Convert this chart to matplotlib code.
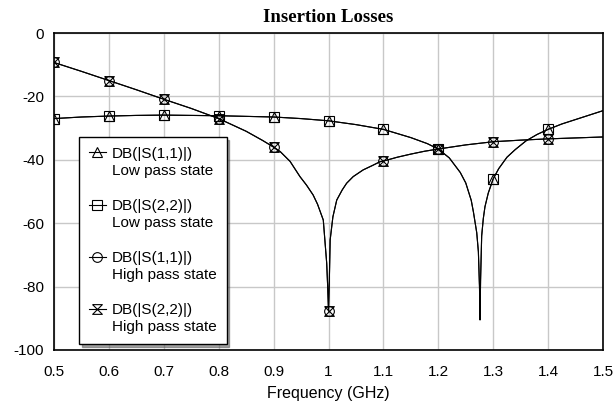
import matplotlib

matplotlib.use("Agg")
import matplotlib.pyplot as plt
import numpy as np
from matplotlib.legend_handler import HandlerLine2D

# ---- data (dB vs GHz) ----
# low pass state: |S(1,1)| and |S(2,2)| lie on top of each other
lp_freq = [0.50, 0.55, 0.60, 0.65, 0.70, 0.75, 0.80, 0.85, 0.90, 0.95,
           1.00, 1.05, 1.10, 1.15, 1.18, 1.20, 1.22, 1.24, 1.25, 1.26,
           1.264, 1.27, 1.273, 1.275, 1.276, 1.277, 1.279, 1.282, 1.285, 1.291,
           1.30, 1.31, 1.325, 1.34, 1.36, 1.38, 1.40, 1.425, 1.45, 1.475, 1.50]
lp_s11 = [-27.0, -26.5, -26.2, -26.0, -25.9, -26.0, -26.1, -26.3, -26.5, -27.0,
          -27.7, -28.9, -30.4, -33.0, -34.9, -36.6, -39.4, -44.0, -47.3, -52.8,
          -56.5, -63.0, -69.0, -80.0, -90.5, -78.0, -64.0, -58.5, -54.8, -50.5,
          -46.0, -42.8, -39.2, -36.8, -34.0, -32.0, -30.4, -28.7, -27.3, -25.9, -24.5]
lp_s22 = list(lp_s11)

# high pass state
hp_freq = [0.50, 0.55, 0.60, 0.65, 0.70, 0.75, 0.80, 0.85, 0.88, 0.90,
           0.912, 0.93, 0.948, 0.96, 0.972, 0.98, 0.9905, 0.9967, 0.9985, 1.00,
           1.0015, 1.003, 1.008, 1.015, 1.025, 1.033, 1.045, 1.063, 1.08, 1.094,
           1.10, 1.125, 1.15, 1.175, 1.20, 1.25, 1.30, 1.35, 1.40, 1.45, 1.50]
hp_s11 = [-9.3, -12.1, -15.0, -17.9, -20.9, -23.8, -27.0, -31.0, -33.9, -36.0,
          -37.4, -40.5, -45.3, -48.0, -51.1, -54.0, -59.0, -72.6, -80.0, -87.7,
          -78.0, -65.3, -58.0, -52.7, -49.5, -47.4, -45.3, -43.2, -41.8, -40.6,
          -40.4, -39.2, -38.2, -37.3, -36.6, -35.3, -34.3, -33.8, -33.4, -33.1, -32.8]
hp_s22 = list(hp_s11)

mark_freq = [0.5, 0.6, 0.7, 0.8, 0.9, 1.0, 1.1, 1.2, 1.3, 1.4]

labels = ["DB(|S(1,1)|)\nLow pass state", "DB(|S(2,2)|)\nLow pass state",
          "DB(|S(1,1)|)\nHigh pass state", "DB(|S(2,2)|)\nHigh pass state"]

xticks = [0.5, 0.6, 0.7, 0.8, 0.9, 1.0, 1.1, 1.2, 1.3, 1.4, 1.5]
xtick_labels = ["0.5", "0.6", "0.7", "0.8", "0.9", "1", "1.1", "1.2", "1.3", "1.4", "1.5"]
yticks = [0, -20, -40, -60, -80, -100]

hourglass = [(-1, 1), (1, 1), (-1, -1), (1, -1), (-1, 1)]

plt.rcParams["font.family"] = ["Liberation Sans", "DejaVu Sans"]
plt.rcParams["axes.unicode_minus"] = False


def mark_idx(freq):
    return [i for i, f in enumerate(freq) if any(abs(f - m) < 1e-6 for m in mark_freq)]


class TopLineHandler(HandlerLine2D):
    # put the legend sample next to the first line of a two-line label
    def create_artists(self, legend, orig_handle, xdescent, ydescent,
                       width, height, fontsize, trans):
        return super().create_artists(legend, orig_handle, xdescent,
                                      ydescent - 1.3 * fontsize, width, height,
                                      fontsize, trans)


fig = plt.figure(figsize=(6.15, 4.09), dpi=100)
ax = fig.add_axes([0.0878, 0.1443, 0.8927, 0.775])

series = [
    (lp_freq, lp_s11, "^"),
    (lp_freq, lp_s22, "s"),
    (hp_freq, hp_s11, "o"),
    (hp_freq, hp_s22, hourglass),
]
lines = []
for (fq, db, mk), lab in zip(series, labels):
    ln, = ax.plot(fq, db, color="black", lw=0.8, marker=mk, ms=7, mfc="none",
                  mec="black", mew=0.8, markevery=mark_idx(fq), label=lab)
    lines.append(ln)

ax.set_xlim(0.5, 1.5)
ax.set_ylim(-100, 0)
ax.set_xticks(xticks)
ax.set_xticklabels(xtick_labels)
ax.set_yticks(yticks)
ax.tick_params(length=0, labelsize=11)
ax.tick_params(axis="x", pad=11)
ax.tick_params(axis="y", pad=7)
ax.grid(color="#c8c8c8", lw=1)
ax.set_axisbelow(True)
for s in ax.spines.values():
    s.set_linewidth(1.2)
    s.set_color("black")

ax.set_xlabel("Frequency (GHz)", fontsize=11.5, labelpad=5)
ax.set_title("Insertion Losses", fontsize=13.5, fontweight="bold",
             family=["Liberation Serif", "DejaVu Serif"], pad=8)

leg = ax.legend(handles=lines, loc="lower left", bbox_to_anchor=(0.0455, 0.019),
                borderaxespad=0, fontsize=11, handlelength=1.1, handletextpad=0.4,
                labelspacing=1.4, borderpad=0.65, frameon=True, fancybox=False,
                shadow=True, framealpha=1, edgecolor="black",
                handler_map={ln: TopLineHandler() for ln in lines})
leg.get_frame().set_linewidth(1.0)
for t in leg.get_texts():
    t.set_linespacing(1.25)

fig.savefig("out.png", dpi=100)
